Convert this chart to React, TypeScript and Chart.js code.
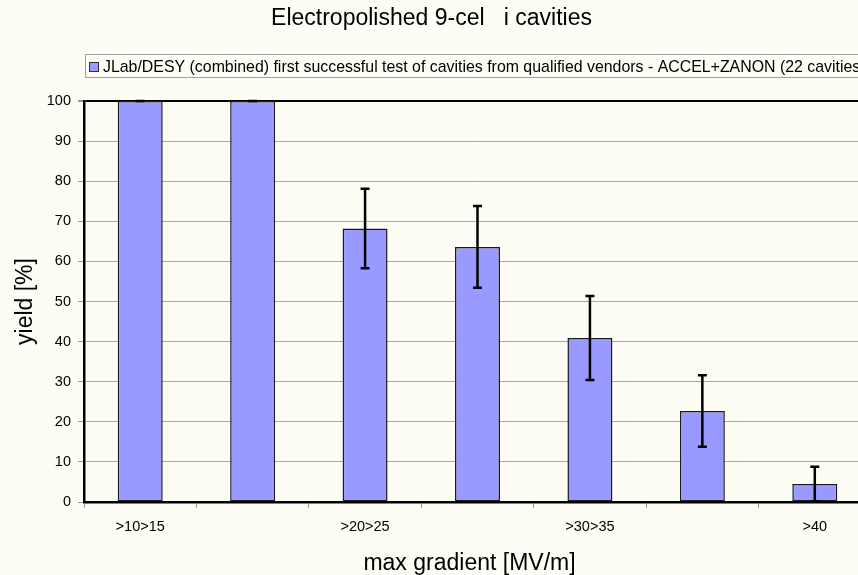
import React, { useEffect, useRef } from "react";
import { Chart, registerables } from "chart.js";

Chart.register(...registerables);

// ---- data ----
const categories = [">10>15", ">15>20", ">20>25", ">25>30", ">30>35", ">35>40", ">40"];
const yieldValues = [100, 100, 68.2, 63.6, 40.9, 22.7, 4.5];
const yieldErrors = [0, 0, 9.9, 10.2, 10.5, 8.9, 4.3];
const chartTitle = "Electropolished 9-cel   i cavities";
const seriesLabel =
  "JLab/DESY (combined) first successful test of cavities from qualified vendors - ACCEL+ZANON (22 cavities)";
const xTitle = "max gradient [MV/m]";
const yTitle = "yield [%]";

// ---- style ----
const FONT = "'Liberation Sans', Arial, sans-serif";
const BG = "#FDFDF5";
const BAR_FILL = "#9999FF";
const BAR_BORDER = "#1a1a1a";

const decorPlugin = {
  id: "decor",
  beforeDraw(chart: any) {
    const { ctx, width, height } = chart;
    ctx.save();
    ctx.fillStyle = BG;
    ctx.fillRect(0, 0, width, height);
    ctx.restore();
  },
  afterDatasetsDraw(chart: any) {
    const { ctx } = chart;
    const meta = chart.getDatasetMeta(0);
    const ys = chart.scales.y;
    ctx.save();
    ctx.strokeStyle = "#000";
    ctx.lineWidth = 2.5;
    meta.data.forEach((bar: any, i: number) => {
      const v = yieldValues[i];
      const e = yieldErrors[i];
      const x = bar.x;
      const top = ys.getPixelForValue(v + e);
      const bot = ys.getPixelForValue(Math.max(0, v - e));
      ctx.beginPath();
      ctx.moveTo(x, top);
      ctx.lineTo(x, bot);
      ctx.moveTo(x - 4.5, top);
      ctx.lineTo(x + 4.5, top);
      ctx.moveTo(x - 4.5, bot);
      ctx.lineTo(x + 4.5, bot);
      ctx.stroke();
    });
    ctx.restore();
  },
  afterDraw(chart: any) {
    const { ctx } = chart;
    ctx.save();
    // main title
    ctx.fillStyle = "#000";
    ctx.font = `23px ${FONT}`;
    ctx.textAlign = "center";
    ctx.textBaseline = "alphabetic";
    ctx.fillText(chartTitle, 431.5, 25);
    // legend box
    ctx.strokeStyle = "#a0a0a0";
    ctx.lineWidth = 1;
    ctx.strokeRect(85.5, 54.5, 820, 23);
    ctx.fillStyle = BAR_FILL;
    ctx.fillRect(89, 62, 10, 10);
    ctx.strokeStyle = "#333";
    ctx.strokeRect(89.5, 62.5, 9, 9);
    ctx.fillStyle = "#000";
    ctx.font = `15.9px ${FONT}`;
    ctx.textAlign = "left";
    ctx.fillText(seriesLabel, 103, 72);
    // x axis title
    ctx.font = `23px ${FONT}`;
    ctx.textAlign = "center";
    ctx.fillText(xTitle, 469.5, 570);
    ctx.restore();
  },
};

export default function App() {
  const ref = useRef<HTMLCanvasElement | null>(null);

  useEffect(() => {
    if (!ref.current) return;
    const tickFont = { family: FONT, size: 14.5 };
    const chart = new Chart(ref.current, {
      type: "bar",
      data: {
        labels: categories,
        datasets: [
          {
            label: seriesLabel,
            data: yieldValues,
            backgroundColor: BAR_FILL,
            borderColor: BAR_BORDER,
            borderWidth: 1.5,
            borderSkipped: false,
            barPercentage: 0.4,
            categoryPercentage: 1,
          },
        ],
      },
      options: {
        responsive: false,
        animation: false,
        devicePixelRatio: 1,
        layout: { padding: { top: 101, left: 0, right: 1, bottom: 0 } },
        plugins: {
          legend: { display: false },
          title: { display: false },
          tooltip: { enabled: false },
        },
        scales: {
          x: {
            grid: {
              offset: true,
              drawOnChartArea: false,
              drawTicks: true,
              tickLength: 6,
              tickColor: "#999",
            },
            border: { color: "#000", width: 2.5 },
            ticks: {
              autoSkip: false,
              maxRotation: 0,
              padding: 10,
              color: "#000",
              font: tickFont,
              callback: (_v: any, i: number) => (i % 2 === 0 ? categories[i] : ""),
            },
            afterFit: (s: any) => {
              s.height = 73;
            },
          },
          y: {
            min: 0,
            max: 100,
            ticks: { stepSize: 10, padding: 7, color: "#000", font: tickFont },
            grid: {
              color: (c: any) => (c.tick && c.tick.value === 100 ? "#000" : "#a8a8a8"),
              lineWidth: (c: any) => (c.tick && c.tick.value === 100 ? 2 : 1),
              tickLength: 6,
              tickColor: "#999",
            },
            border: { color: "#000", width: 2.5 },
            title: {
              display: true,
              text: yTitle,
              color: "#000",
              font: { family: FONT, size: 23 },
              padding: { top: 12, bottom: 0 },
            },
            afterFit: (s: any) => {
              s.width = 84;
            },
          },
        },
      },
      plugins: [decorPlugin],
    });
    return () => chart.destroy();
  }, []);

  return (
    <div
      style={{
        position: "fixed",
        left: 0,
        top: 0,
        width: 858,
        height: 575,
        overflow: "hidden",
        background: BG,
      }}
    >
      <canvas ref={ref} width={872} height={575} style={{ display: "block", width: 872, height: 575 }} />
    </div>
  );
}
